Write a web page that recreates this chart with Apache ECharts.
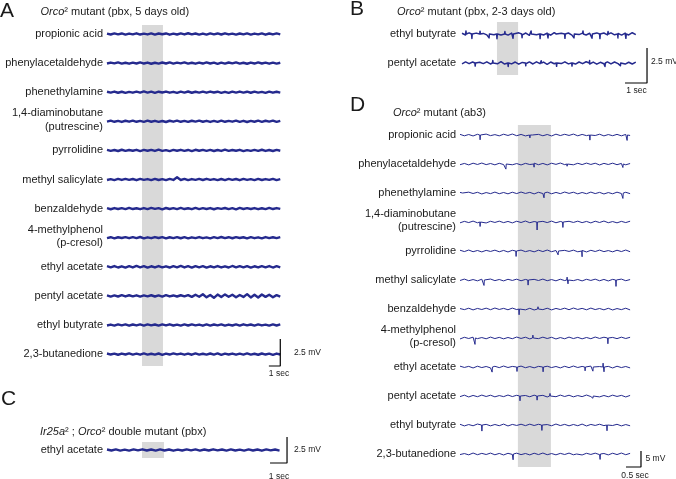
<!DOCTYPE html>
<html lang="en">
<head>
<meta charset="UTF-8">
<title>Orco2 mutant recordings</title>
<script src="https://cdn.jsdelivr.net/npm/echarts@6.0.0/dist/echarts.min.js"></script>
<style>
  html, body { margin: 0; padding: 0; background: #fff; }
  #main { width: 676px; height: 479px; }
</style>
</head>
<body>
<div id="main"></div>
<script type="text/javascript">
  // odorant names
  var odorsA = ['propionic acid', 'phenylacetaldehyde', 'phenethylamine', '1,4-diaminobutane\n(putrescine)',
    'pyrrolidine', 'methyl salicylate', 'benzaldehyde', '4-methylphenol\n(p-cresol)', 'ethyl acetate',
    'pentyl acetate', 'ethyl butyrate', '2,3-butanedione'];
  var odorsB = ['ethyl butyrate', 'pentyl acetate'];
  var odorsC = ['ethyl acetate'];
  var odorsD = odorsA;

  // trace samples, evenly spread over the recording
  // A and C in units of 5 uV, B in 7 uV, D in 10 uV
  var noiseA = [
    [7,-9,11,-6,10,-12,8,-7,13,-10,6,-8,12,-11,9,-5,10,-13,7,-9,11,-8,14,-7,9,-10,8,-12,11,-6,10,-9,13,-8,7,-11,9,-7,12,-10,8,-6,11,-13,9,-8,10,-7],
    [-8,10,-6,12,-9,7,-11,9,-7,13,-8,10,-12,6,-9,11,-7,12,-10,8,-6,13,-9,7,-11,10,-8,12,-7,9,-13,8,-10,11,-6,12,-9,7,-12,10,-8,13,-7,9,-11,8,-10,6],
    [9,-7,12,-10,8,-13,6,-9,11,-8,14,-7,10,-11,9,-6,12,-9,7,-12,10,-8,13,-10,8,-7,11,-9,12,-6,9,-11,7,-13,10,-8,12,-7,9,-10,11,-8,6,-12,10,-9,8,-7],
    [-6,11,-9,8,-12,10,-7,13,-9,7,-10,12,-8,9,-11,6,-13,10,-7,12,-9,8,-11,10,-6,13,-8,9,-12,7,-10,11,-9,8,-7,12,-10,9,-13,7,-8,11,-9,10,-6,12,-11,8],
    [10,-8,7,-11,12,-9,8,-6,11,-13,9,-7,10,-10,13,-8,6,-12,9,-7,11,-9,8,-13,12,-6,10,-8,9,-11,7,-10,13,-9,8,-7,11,-12,6,-9,10,-8,12,-10,7,-11,9,-6],
    [-9,7,-11,10,-8,12,-6,9,-13,11,-7,8,-10,12,-9,6,-11,10,-8,40,-9,11,-12,8,-7,10,-9,13,-6,8,-11,9,-10,12,-7,9,-13,10,-8,6,-12,11,-9,8,-7,12,-10,7],
    [8,-12,10,-7,9,-10,13,-8,7,-11,10,-9,12,-6,8,-13,11,-7,9,-10,12,-8,6,-11,13,-9,8,-7,10,-12,9,-6,11,-10,8,-13,12,-7,9,-8,10,-11,7,-9,13,-8,10,-6],
    [-7,9,-12,8,-6,11,-9,10,-8,13,-11,7,-9,12,-6,10,-13,8,-7,11,-10,9,-12,7,-8,12,-9,6,-11,10,-7,13,-8,9,-10,11,-6,8,-12,10,-9,7,-11,12,-8,9,-7,10],
    [12,-10,14,-13,9,-15,11,-12,15,-9,13,-14,10,-12,14,-11,9,-13,12,-10,15,-12,11,-14,13,-9,12,-15,10,-11,14,-12,9,-13,15,-10,12,-11,13,-14,10,-12,11,-9,14,-13,12,-10],
    [10,-12,9,-11,13,-10,12,-9,11,-13,10,-8,12,-11,9,-12,13,-10,8,-11,12,-9,14,-18,22,-15,30,-26,18,-35,24,-20,28,-17,21,-25,16,-19,33,-28,22,-30,26,-18,20,-24,15,-12],
    [-9,8,-11,12,-7,10,-13,9,-8,11,-10,12,-6,9,-12,10,-8,13,-9,7,-11,10,-9,12,-7,8,-13,11,-10,9,-6,12,-11,8,-9,10,-12,13,-7,9,-10,11,-8,7,-12,10,-9,11],
    [11,-8,9,-12,10,-7,13,-9,8,-11,12,-10,7,-9,11,-13,9,-8,12,-6,10,-11,8,-12,13,-9,7,-10,11,-8,12,-13,9,-7,10,-11,8,-9,12,-10,6,-12,11,-8,9,-13,10,-7]
  ];
  var noiseB = [
    [8,-10,12,-7,9,-12,6,-9,11,-8,13,-10,7,-11,9,-6,12,-9,10,-13,8,-7,11,-10,9,-12,13,-8,7,-9,10,-11,12,-6,9,-10,8,-13,11,-7,10,-9,12,-8,6,-11,9,-10,13,-7],
    [-9,11,-7,10,-12,8,-6,12,-10,9,-8,13,-11,7,-9,10,-12,6,-8,11,-10,12,-7,9,-13,10,-8,11,-6,12,-9,8,-11,10,-7,13,-10,9,-12,7,-8,11,-9,10,-6,12,-11,8,-10,9]
  ];
  var noiseC = [
    [10,-9,12,-11,8,-12,11,-8,13,-10,9,-11,12,-9,10,-13,8,-10,12,-7,11,-12,9,-10,13,-8,10,-11,12,-9,8,-12,11,-10,9,-13,12,-8,10,-11]
  ];
  var noiseD = [
    [20,-25,15,-30,22,-18,28,-20,12,-26,24,-15,30,-22,18,-28,25,-12,20,-24,16,-30,26,-18,22,-14,28,-25,18,-20,30,-16,24,-28,14,-22,20,-26,18,-15],
    [-22,18,-28,25,-15,30,-20,16,-26,22,-18,28,-24,14,-30,20,-16,26,-22,18,-28,24,-12,30,-20,16,-25,22,-18,28,-14,24,-30,20,-16,26,-22,18,-25,15],
    [18,-24,26,-16,22,-30,14,-20,28,-22,16,-26,24,-18,30,-14,20,-28,22,-16,26,-24,18,-20,30,-12,24,-26,16,-22,28,-18,20,-30,14,-24,26,-16,22,-20],
    [-26,20,-18,28,-24,16,-30,22,-14,26,-20,18,-28,24,-16,30,-22,14,-26,20,-18,28,-24,16,-30,22,-14,26,-20,18,-28,24,-16,30,-22,14,-26,20,-18,24],
    [24,-18,30,-22,16,-28,20,-14,26,-24,18,-30,22,-16,28,-20,14,-26,24,-18,30,-22,16,-28,20,-14,26,-24,18,-30,22,-16,28,-20,14,-26,24,-18,30,-22],
    [-16,28,-22,14,-26,24,-18,30,-20,16,-28,22,-14,26,-24,18,-30,20,-16,28,-22,14,-26,24,-18,30,-20,16,-28,22,-14,26,-24,18,-30,20,-16,28,-22,14],
    [14,-20,24,-28,18,-16,26,-22,30,-14,20,-24,28,-18,16,-26,22,-30,14,-20,24,-28,18,-16,26,-22,30,-14,20,-24,28,-18,16,-26,22,-30,14,-20,24,-28],
    [-30,22,-16,26,-20,14,-24,28,-18,20,-26,16,-22,30,-14,24,-28,18,-20,26,-16,22,-30,14,-24,28,-18,20,-26,16,-22,30,-14,24,-28,18,-20,26,-16,22],
    [26,-14,20,-30,24,-18,16,-28,22,-20,30,-16,18,-24,28,-22,14,-26,20,-30,24,-18,16,-28,22,-20,30,-16,18,-24,28,-22,14,-26,20,-30,24,-18,16,-28],
    [-20,26,-30,18,-22,28,-16,24,-26,14,-20,30,-18,22,-28,16,-24,26,-14,20,-30,18,-22,28,-16,24,-26,14,-20,30,-18,22,-28,16,-24,26,-14,20,-30,18],
    [22,-28,14,-24,30,-18,20,-26,16,-22,28,-30,18,-14,24,-20,26,-16,22,-28,14,-24,30,-18,20,-26,16,-22,28,-30,18,-14,24,-20,26,-16,22,-28,14,-24],
    [-18,14,-26,30,-22,20,-16,28,-24,18,-30,22,-14,26,-20,16,-28,24,-18,30,-22,14,-26,20,-16,28,-24,18,-30,22,-14,26,-20,16,-28,24,-18,30,-22,20]
  ];

  // spikes: [time s, amplitude in 10 uV]
  var spikesB = [
    [[0.18,22],[0.45,-32],[0.82,20],[1.23,-28],[1.59,-34],[1.95,18],[2.32,-30],[2.73,-26],[3.14,22],[3.55,-33],[3.91,-28],
     [4.27,20],[4.68,-31],[5.09,-28],[5.5,22],[5.91,-30],[6.27,-33],[6.64,18],[7.09,-28],[7.45,-31],[7.77,20]],
    [[0.6,-22],[1.4,18],[2.1,-25],[2.9,-20],[3.6,16],[4.3,-24],[5.0,-22],[5.8,18],[6.5,-25],[7.2,-20]]
  ];
  var spikesD = [
    [[0.67,-150],[2.33,-90],[2.4,60],[4.33,-160],[5.57,-170]],
    [[1.53,-160],[2.47,-100],[3.57,-70],[5.43,-110]],
    [[0.1,-60],[2.8,-150],[5.43,-170]],
    [[0.67,-140],[2.57,-250],[3.43,-170]],
    [[1.87,-170],[3.27,-120],[4.07,-180]],
    [[0.8,-170],[2.27,-160],[3.57,90],[3.6,-120],[5.2,-200]],
    [[1.97,-180],[2.6,70]],
    [[0.5,-200],[2.43,90],[4.93,-180]],
    [[1.07,-160],[1.9,-140],[2.77,-150],[4.17,-120],[4.43,-130],[4.77,120],[4.8,-150]],
    [[2.0,-150],[2.03,60],[2.57,-130],[3.0,80],[4.43,-70]],
    [[0.73,-190],[2.73,-170],[4.9,-180]],
    [[1.77,-180],[3.9,-60],[4.67,-170]]
  ];

  // recording length (s), odour window (s), scale bars [s, mV]
  var durations = {A: 15.2, B: 7.9, C: 10.15, D: 5.67};
  var stimA = [3.07, 4.91];
  var stimB = [1.59, 2.55];
  var stimC = [2.06, 3.35];
  var stimD = [1.93, 3.03];
  var scaleA = [1, 2.5];
  var scaleB = [1, 2.5];
  var scaleC = [1, 2.5];
  var scaleD = [0.5, 5];
  var scaleLabels = {A: ['1 sec', '2.5 mV'], B: ['1 sec', '2.5 mV'], C: ['1 sec', '2.5 mV'], D: ['0.5 sec', '5 mV']};

  var FONT = "'Liberation Sans', Arial, Helvetica, sans-serif";
  var TRACE = '#252a8e';
  var TEXT = '#1a1a1a';

  // layout in px
  var panels = [
    {key: 'A', odors: odorsA, noise: noiseA, unit: 0.005, spikes: null, stim: stimA, scale: scaleA,
      left: 107, top: 25, width: 176, height: 341, pxSec: 11.4, pxMv: 10.8, firstY: 9, gap: 29.1,
      barT: 15.2, lw: 2.4, labelX: 103, mvText: [294, 352.5], secText: [279, 374]},
    {key: 'B', odors: odorsB, noise: noiseB, unit: 0.007, spikes: spikesB, stim: stimB, scale: scaleB,
      left: 462, top: 22, width: 190, height: 61, pxSec: 22, pxMv: 14, firstY: 12, gap: 29, bandH: 53,
      barT: 8.41, lw: 1.5, labelX: 456, mvText: [651, 61.5], secText: [636.5, 90.5]},
    {key: 'C', odors: odorsC, noise: noiseC, unit: 0.005, spikes: null, stim: stimC, scale: scaleC,
      left: 107, top: 437, width: 182, height: 26, pxSec: 17, pxMv: 10.4, firstY: 13, gap: 0, bandC: 0.77,
      barT: 10.59, lw: 2.4, labelX: 103, mvText: [294, 450], secText: [279, 476.5]},
    {key: 'D', odors: odorsD, noise: noiseD, unit: 0.01, spikes: spikesD, stim: stimD, scale: scaleD,
      left: 460, top: 125, width: 185, height: 342, pxSec: 30, pxMv: 3.2, firstY: 10, gap: 29,
      barT: 6.033, lw: 1, labelX: 456, mvText: [645.5, 459], secText: [635, 475.5]}
  ];

  var titles = [
    {text: '{i|Orco}² mutant (pbx, 5 days old)', x: 40.5, y: 12},
    {text: '{i|Orco}² mutant (pbx, 2-3 days old)', x: 397, y: 12},
    {text: '{i|Ir25a}² ; {i|Orco}² double mutant (pbx)', x: 40, y: 432},
    {text: '{i|Orco}² mutant (ab3)', x: 393, y: 113}
  ];
  var letters = [
    {text: 'A', x: 0, y: 11}, {text: 'B', x: 350, y: 9.5},
    {text: 'C', x: 1, y: 399}, {text: 'D', x: 350, y: 105.5}
  ];

  function buildTrace(noise, unit, dur, offset, spikes, pxSec) {
    var n = noise.length;
    var pts = noise.map(function (v, i) {
      return [i * dur / (n - 1), offset + v * unit];
    });
    if (spikes) {
      var hw = 0.35 / pxSec;
      spikes.forEach(function (s) {
        pts.push([s[0] - hw, offset], [s[0], offset + s[1] / 100], [s[0] + hw, offset]);
      });
      pts.sort(function (a, b) { return a[0] - b[0]; });
    }
    return pts;
  }

  function textEl(text, x, y, size, align, extra) {
    var style = {
      text: text, x: x, y: y, fill: TEXT,
      fontSize: size, fontFamily: FONT,
      align: align, textAlign: align,
      verticalAlign: 'middle', textVerticalAlign: 'middle'
    };
    if (extra) {
      for (var k in extra) style[k] = extra[k];
    }
    return {type: 'text', silent: true, style: style};
  }

  var grid = [], xAxis = [], yAxis = [], series = [], graphic = [];

  panels.forEach(function (p, gi) {
    var yMax = p.firstY / p.pxMv;
    var yMin = yMax - p.height / p.pxMv;
    grid.push({left: p.left, top: p.top, width: p.width, height: p.height});
    xAxis.push({type: 'value', gridIndex: gi, min: 0, max: p.width / p.pxSec, show: false});
    yAxis.push({type: 'value', gridIndex: gi, min: yMin, max: yMax, show: false});

    var band;
    if (p.bandC) {
      band = [{xAxis: p.stim[0], yAxis: p.bandC}, {xAxis: p.stim[1], yAxis: -p.bandC}];
    } else if (p.bandH) {
      band = [{xAxis: p.stim[0], yAxis: yMax}, {xAxis: p.stim[1], yAxis: yMax - p.bandH / p.pxMv}];
    } else {
      band = [{xAxis: p.stim[0]}, {xAxis: p.stim[1]}];
    }

    // scale bar + odour window
    series.push({
      type: 'line', xAxisIndex: gi, yAxisIndex: gi, symbol: 'none', clip: false, z: 3,
      lineStyle: {color: '#000', width: 1.2},
      data: [[p.barT, yMin + p.scale[1]], [p.barT, yMin], [p.barT - p.scale[0], yMin]],
      markArea: {silent: true, itemStyle: {color: '#d9d9d9'}, data: [band]}
    });

    p.odors.forEach(function (name, i) {
      var off = -i * p.gap / p.pxMv;
      series.push({
        type: 'line', xAxisIndex: gi, yAxisIndex: gi, symbol: 'none', clip: false, z: 2,
        lineStyle: {color: TRACE, width: p.lw, join: 'round'},
        data: buildTrace(p.noise[i], p.unit, durations[p.key], off, p.spikes ? p.spikes[i] : null, p.pxSec)
      });
      var two = name.indexOf('\n') >= 0;
      var ty = p.top + p.firstY + i * p.gap - (two ? 1.3 : 0);
      graphic.push(textEl(name, p.labelX, ty, 11, 'right', {lineHeight: 13.5}));
    });

    graphic.push(textEl(scaleLabels[p.key][1], p.mvText[0], p.mvText[1], 8.5, 'left'));
    graphic.push(textEl(scaleLabels[p.key][0], p.secText[0], p.secText[1], 8.5, 'center'));
  });

  titles.forEach(function (t) {
    graphic.push(textEl(t.text, t.x, t.y, 11, 'left', {
      rich: {i: {fontStyle: 'italic', fontSize: 11, fontFamily: FONT, fill: TEXT}}
    }));
  });
  letters.forEach(function (l) {
    graphic.push(textEl(l.text, l.x, l.y, 21, 'left'));
  });

  var myChart = echarts.init(document.getElementById('main'), null, {renderer: 'canvas'});
  myChart.setOption({
    backgroundColor: '#fff',
    animation: false,
    grid: grid,
    xAxis: xAxis,
    yAxis: yAxis,
    series: series,
    graphic: graphic
  });

  window.addEventListener('resize', function () {
    myChart.resize();
  });
</script>
</body>
</html>
